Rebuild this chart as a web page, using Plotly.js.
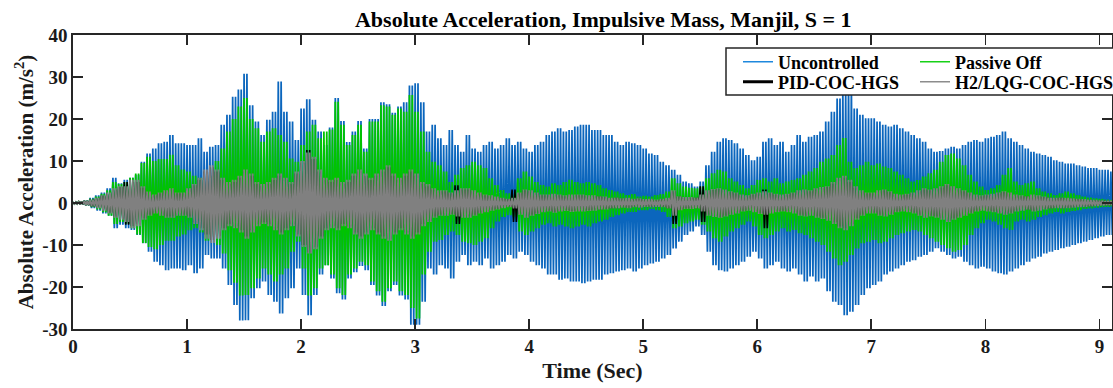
<!DOCTYPE html>
<html>
<head>
<meta charset="utf-8">
<script src="https://cdn.plot.ly/plotly-3.0.1.min.js"></script>
<style>html,body{margin:0;padding:0;background:#fff;}#chart{width:1113px;height:388px;}</style>
</head>
<body>
<div id="chart"></div>
<script>
// Sampling step of the envelope readings (s)
const DT = 0.05;

const seriesNames = ["Uncontrolled", "Passive Off", "PID-COC-HGS", "H2/LQG-COC-HGS"];

// Upper / lower peak envelopes, every 0.05 s from 0 to 9.1 s
const uncontrolledUp = [
  0.2,0.4,0.6,1.2,1.8,2.5,3.5,6.0,4.7,5.5,
  6.0,6.7,9.8,11.8,13.0,14.2,14.6,16.2,14.2,14.2,
  13.8,13.8,15.4,12.2,13.4,13.8,18.6,21.0,25.3,27.0,
  30.8,23.3,19.4,16.2,19.8,21.7,28.9,21.7,19.4,15.0,
  22.5,24.7,19.8,17.0,13.8,18.0,25.0,19.5,14.5,17.0,
  19.5,13.0,20.0,20.0,24.0,23.5,21.5,23.0,24.0,28.0,
  28.5,24.0,17.0,18.6,15.4,13.8,17.4,13.8,12.2,16.2,
  13.0,12.2,13.8,14.6,13.0,13.8,15.4,13.8,14.6,13.0,
  12.2,13.8,14.6,16.2,17.0,17.8,17.0,17.4,18.2,18.6,
  18.6,17.4,17.4,16.2,16.2,14.6,13.8,14.6,14.2,13.8,
  13.0,11.8,11.4,9.8,9.0,7.9,6.7,5.1,4.7,3.9,
  5.1,9.0,12.2,14.6,15.4,15.0,14.2,13.0,11.4,10.2,
  11.0,14.6,15.4,13.8,14.6,12.2,13.8,16.2,14.6,15.8,
  16.2,17.0,19.4,21.7,24.9,26.5,28.0,22.5,21.0,20.2,
  20.2,19.4,18.6,18.2,18.6,17.8,17.0,16.2,15.4,14.6,
  13.0,12.2,12.4,13.0,13.4,13.0,13.8,14.6,15.0,14.6,
  15.4,15.8,16.2,17.0,15.4,14.6,13.8,13.0,12.2,11.8,
  11.4,11.0,10.2,9.8,9.4,9.4,9.0,8.7,8.3,8.3,
  7.9,7.9,7.5
];
const uncontrolledLow = [
  -0.2,-0.4,-0.6,-1.2,-1.8,-2.5,-3.0,-6.0,-5.2,-6.0,
  -6.4,-7.6,-9.6,-11.6,-14.0,-14.8,-16.0,-15.6,-15.6,-16.0,
  -14.8,-16.7,-15.6,-12.4,-13.2,-13.2,-15.6,-19.5,-24.3,-28.0,
  -27.9,-22.7,-20.3,-18.7,-21.9,-23.5,-26.3,-22.7,-20.3,-15.6,
  -21.9,-26.7,-21.9,-17.0,-14.8,-18.0,-21.5,-23.0,-18.0,-16.5,
  -15.0,-16.0,-19.5,-22.0,-24.5,-21.0,-19.5,-22.0,-23.0,-29.0,
  -29.0,-23.5,-15.6,-17.0,-14.8,-15.6,-18.0,-14.0,-12.4,-14.8,
  -14.0,-14.8,-13.2,-15.6,-14.8,-14.0,-12.4,-13.2,-11.6,-12.4,
  -14.0,-14.8,-15.6,-17.0,-17.0,-18.3,-18.0,-18.7,-18.7,-19.1,
  -18.7,-18.3,-18.3,-17.0,-16.7,-16.3,-16.0,-15.6,-16.3,-15.6,
  -14.8,-14.4,-14.0,-13.2,-12.4,-10.8,-9.2,-7.6,-6.8,-5.6,
  -7.6,-11.6,-14.8,-16.0,-16.3,-15.6,-14.8,-14.0,-12.8,-11.6,
  -13.2,-15.6,-14.8,-14.0,-15.6,-16.3,-15.6,-17.0,-18.7,-17.5,
  -18.7,-18.0,-21.0,-23.5,-24.3,-26.7,-25.9,-24.3,-21.9,-20.3,
  -19.5,-18.7,-17.0,-16.3,-15.6,-14.8,-14.0,-13.6,-12.8,-12.4,
  -11.6,-10.8,-11.6,-12.4,-13.2,-12.8,-14.0,-14.8,-15.6,-15.2,
  -15.6,-16.3,-16.7,-17.0,-16.3,-15.6,-14.8,-14.0,-13.2,-12.8,
  -12.0,-11.6,-11.2,-10.8,-10.4,-10.0,-9.6,-9.2,-8.8,-8.4,
  -8.0,-7.6,-7.6
];
const passiveUp = [
  0.2,0.3,0.5,1.0,1.5,2.2,3.0,5.0,4.5,5.0,
  6.0,7.0,9.5,11.0,10.0,10.5,10.5,11.5,9.0,8.0,
  7.5,6.5,6.0,5.5,6.5,10.0,13.0,17.0,20.0,23.0,
  25.0,20.0,17.8,14.6,17.0,17.8,16.2,14.6,10.6,9.8,
  13.8,17.0,18.6,15.4,17.0,17.5,24.1,18.6,13.8,16.2,
  18.6,12.2,19.4,19.4,23.3,23.0,21.0,22.5,21.7,25.7,
  21.7,17.0,12.2,9.8,9.0,7.5,5.0,6.7,8.3,9.0,
  9.8,9.0,8.3,5.9,4.3,3.1,2.3,2.7,5.9,7.5,
  6.3,5.0,4.3,3.9,4.7,4.3,5.0,5.5,5.0,4.7,
  5.0,4.7,4.3,3.5,3.1,2.7,2.3,1.9,2.1,1.5,
  1.7,1.5,1.9,2.1,2.7,5.9,4.7,3.9,3.6,3.5,
  3.9,5.9,7.1,7.9,7.5,5.9,5.1,4.3,3.5,4.3,
  5.5,5.9,5.1,5.9,4.7,5.1,5.5,5.9,6.7,7.5,
  8.3,9.8,10.6,11.4,13.8,15.5,9.8,8.3,9.0,9.8,
  9.0,9.4,8.7,8.3,7.5,6.7,5.9,5.1,5.5,6.3,
  7.1,7.9,9.8,11.4,11.8,10.6,9.0,6.7,5.1,3.9,
  3.1,3.5,4.3,6.7,8.3,5.1,4.3,4.7,5.1,3.5,
  2.7,2.3,1.9,2.3,2.7,2.3,1.9,1.5,1.3,1.1,
  1.0,0.8,0.7
];
const passiveLow = [
  -0.2,-0.3,-0.5,-1.0,-1.5,-2.2,-3.0,-5.0,-4.5,-5.0,
  -6.0,-7.5,-9.5,-10.5,-11.0,-10.0,-9.0,-9.0,-8.0,-7.5,
  -6.5,-6.0,-7.0,-9.0,-8.0,-10.0,-12.0,-16.0,-19.0,-22.0,
  -21.9,-20.3,-18.0,-15.6,-17.0,-18.7,-17.0,-15.6,-11.6,-9.2,
  -15.6,-22.0,-20.3,-15.6,-14.8,-17.0,-20.3,-21.9,-17.0,-15.6,
  -14.0,-14.8,-18.7,-21.0,-23.5,-20.3,-18.7,-21.0,-21.9,-25.0,
  -27.5,-17.0,-11.6,-9.2,-8.8,-7.6,-6.8,-7.6,-9.2,-9.6,
  -10.0,-9.2,-8.4,-6.0,-4.4,-3.3,-2.9,-3.3,-6.8,-7.6,
  -6.8,-6.0,-5.2,-4.8,-5.6,-5.2,-5.6,-6.0,-5.6,-5.2,
  -5.6,-4.8,-4.4,-4.0,-3.3,-2.9,-2.5,-2.1,-2.1,-1.7,
  -1.7,-1.4,-1.7,-2.1,-3.3,-6.0,-5.6,-4.8,-4.4,-4.0,
  -5.2,-6.8,-8.4,-9.2,-8.0,-6.8,-6.0,-5.2,-4.4,-5.6,
  -7.6,-8.4,-7.6,-6.8,-6.0,-6.8,-6.4,-7.2,-7.6,-8.4,
  -9.2,-10.0,-11.6,-13.2,-14.8,-14.0,-12.4,-10.8,-9.6,-9.2,
  -8.8,-9.6,-9.2,-8.4,-7.6,-7.2,-6.8,-6.4,-6.8,-7.6,
  -8.4,-9.2,-10.0,-10.8,-11.6,-11.2,-10.0,-7.6,-6.0,-4.8,
  -4.0,-4.4,-5.2,-6.0,-6.4,-4.4,-4.0,-4.4,-4.0,-3.3,
  -2.9,-2.5,-2.1,-2.5,-2.1,-1.9,-1.7,-1.4,-1.3,-1.1,
  -1.0,-0.9,-0.8
];
const pidUp = [
  0.2,0.3,0.5,0.8,1.1,1.7,2.3,3.2,3.8,5.0,
  5.0,5.0,3.6,2.5,1.8,2.3,2.8,3.2,2.3,2.3,
  3.2,4.2,5.5,7.5,8.5,7.5,5.5,4.5,5.0,6.0,
  7.5,6.5,4.5,4.0,4.5,5.5,6.5,5.5,4.5,7.0,
  9.5,12.6,10.5,7.5,5.5,5.0,5.5,4.5,5.0,6.5,
  7.5,6.5,5.5,6.5,7.5,8.5,6.5,5.5,6.5,7.5,
  6.5,4.5,4.0,3.2,2.8,2.8,2.3,4.2,3.2,3.2,
  2.8,2.3,1.8,1.6,1.4,1.1,0.9,3.2,2.3,3.0,
  2.8,2.3,1.8,1.8,2.0,1.8,1.6,1.8,1.8,1.8,
  1.6,1.6,1.5,1.4,1.1,1.2,1.0,1.1,0.9,1.0,
  0.8,0.9,0.7,0.9,1.1,2.8,1.5,1.3,1.3,1.2,
  4.0,2.8,3.1,3.3,3.0,2.6,2.3,1.8,1.6,2.0,
  2.3,3.2,2.3,2.0,1.8,2.0,2.3,2.8,3.0,2.8,
  3.2,3.5,3.8,4.6,5.6,6.0,5.0,3.6,2.8,2.3,
  2.3,2.8,3.0,2.6,2.0,1.8,2.0,2.3,2.8,3.2,
  3.0,3.2,3.7,4.2,3.7,3.2,2.8,2.3,1.8,1.6,
  1.8,2.0,2.3,2.6,2.3,1.8,1.6,1.5,1.8,1.6,
  1.4,1.2,1.1,1.2,1.1,1.0,0.9,0.8,0.7,0.6,
  0.5,0.5,0.4
];
const pidLow = [
  -0.2,-0.3,-0.5,-0.8,-1.1,-1.7,-2.3,-3.2,-3.8,-5.2,
  -5.5,-5.0,-3.6,-2.8,-2.3,-2.8,-3.2,-3.2,-2.8,-2.8,
  -3.2,-4.6,-6.0,-7.5,-8.8,-7.8,-6.0,-5.0,-5.5,-6.5,
  -8.0,-6.5,-5.0,-4.6,-5.0,-6.0,-7.0,-6.0,-5.0,-7.5,
  -10.0,-11.8,-10.5,-8.0,-6.0,-5.5,-6.0,-5.0,-5.5,-7.0,
  -8.0,-7.0,-6.0,-7.0,-8.0,-8.5,-7.0,-6.0,-7.0,-8.0,
  -7.0,-5.0,-4.2,-3.2,-2.8,-2.8,-2.6,-5.0,-3.2,-3.2,
  -2.8,-2.3,-2.0,-1.6,-1.4,-1.1,-0.9,-4.5,-2.6,-3.2,
  -2.8,-2.4,-2.0,-1.8,-2.1,-1.8,-1.7,-1.9,-1.8,-1.8,
  -1.7,-1.6,-1.5,-1.4,-1.2,-1.2,-1.0,-1.1,-0.9,-1.0,
  -0.8,-0.9,-0.8,-0.9,-1.2,-5.0,-1.6,-1.3,-1.3,-1.2,
  -4.5,-2.8,-3.1,-3.3,-3.0,-2.6,-2.3,-1.8,-1.6,-2.0,
  -2.4,-6.0,-2.3,-2.0,-1.8,-2.0,-2.3,-2.8,-3.0,-2.8,
  -3.2,-3.5,-3.9,-4.6,-5.6,-6.0,-5.0,-3.6,-2.8,-2.3,
  -2.3,-2.8,-3.0,-2.6,-2.0,-1.8,-2.0,-2.3,-2.8,-3.2,
  -3.0,-3.2,-3.7,-4.2,-3.7,-3.2,-2.8,-2.3,-1.8,-1.6,
  -1.8,-2.0,-2.3,-2.6,-2.3,-1.8,-1.6,-1.5,-1.8,-1.6,
  -1.4,-1.2,-1.1,-1.2,-1.1,-1.0,-0.9,-0.8,-0.7,-0.6,
  -0.5,-0.5,-0.4
];
const lqgUp = [
  0.2,0.3,0.5,0.8,1.2,1.8,2.5,3.5,4.0,4.0,
  5.5,5.5,4.0,2.7,2.0,2.5,3.0,3.5,2.5,2.5,
  3.5,4.5,6.0,8.0,9.0,8.0,6.0,5.0,5.5,6.5,
  8.0,7.0,5.0,4.5,5.0,6.0,7.0,6.0,5.0,7.5,
  10.0,12.0,11.0,8.0,6.0,5.5,6.0,5.0,5.5,7.0,
  8.0,7.0,6.0,7.0,8.0,9.0,7.0,6.0,7.0,8.0,
  7.0,5.0,4.5,3.5,3.0,3.0,2.5,3.0,3.5,3.5,
  3.0,2.5,2.0,1.8,1.5,1.2,1.0,1.2,2.5,3.2,
  3.0,2.5,2.0,2.0,2.2,2.0,1.8,2.0,2.0,2.0,
  1.8,1.8,1.6,1.5,1.2,1.3,1.1,1.2,1.0,1.1,
  0.9,1.0,0.8,1.0,1.2,3.0,1.6,1.4,1.4,1.3,
  2.0,3.0,3.3,3.5,3.2,2.8,2.5,2.0,1.8,2.2,
  2.5,2.8,2.5,2.2,2.0,2.2,2.5,3.0,3.2,3.0,
  3.5,3.8,4.0,5.0,6.0,6.5,5.5,4.0,3.0,2.5,
  2.5,3.0,3.2,2.8,2.2,2.0,2.2,2.5,3.0,3.5,
  3.2,3.5,4.0,4.5,4.0,3.5,3.0,2.5,2.0,1.8,
  2.0,2.2,2.5,2.8,2.5,2.0,1.8,1.6,2.0,1.8,
  1.5,1.3,1.2,1.3,1.2,1.1,1.0,0.9,0.8,0.7,
  0.6,0.5,0.5
];
const lqgLow = [
  -0.2,-0.3,-0.5,-0.8,-1.2,-1.8,-2.5,-3.5,-4.0,-4.5,
  -6.0,-5.5,-4.0,-3.0,-2.5,-3.0,-3.5,-3.5,-3.0,-3.0,
  -3.5,-5.0,-6.5,-8.5,-9.5,-8.5,-6.5,-5.5,-6.0,-7.0,
  -8.5,-7.0,-5.5,-5.0,-5.5,-6.5,-7.5,-6.5,-5.5,-8.0,
  -10.5,-12.0,-11.0,-8.5,-6.5,-6.0,-6.5,-5.5,-6.0,-7.5,
  -8.5,-7.5,-6.5,-7.5,-8.5,-9.0,-7.5,-6.5,-7.5,-8.5,
  -7.5,-5.5,-4.5,-3.5,-3.0,-3.0,-2.8,-3.2,-3.5,-3.5,
  -3.0,-2.5,-2.2,-1.8,-1.5,-1.2,-1.0,-1.3,-2.8,-3.5,
  -3.0,-2.6,-2.2,-2.0,-2.3,-2.0,-1.9,-2.1,-2.0,-2.0,
  -1.9,-1.8,-1.6,-1.5,-1.3,-1.3,-1.1,-1.2,-1.0,-1.1,
  -0.9,-1.0,-0.9,-1.0,-1.3,-3.0,-1.7,-1.4,-1.4,-1.3,
  -2.0,-3.0,-3.3,-3.5,-3.2,-2.8,-2.5,-2.0,-1.8,-2.2,
  -2.6,-2.8,-2.5,-2.2,-2.0,-2.2,-2.5,-3.0,-3.2,-3.0,
  -3.5,-3.8,-4.2,-5.0,-6.0,-6.5,-5.5,-4.0,-3.0,-2.5,
  -2.5,-3.0,-3.2,-2.8,-2.2,-2.0,-2.2,-2.5,-3.0,-3.5,
  -3.2,-3.5,-4.0,-4.5,-4.0,-3.5,-3.0,-2.5,-2.0,-1.8,
  -2.0,-2.2,-2.5,-2.8,-2.5,-2.0,-1.8,-1.6,-2.0,-1.8,
  -1.5,-1.3,-1.2,-1.3,-1.2,-1.1,-1.0,-0.9,-0.8,-0.7,
  -0.6,-0.5,-0.5
];

const xTickVals = [0,1,2,3,4,5,6,7,8,9];
const yTickVals = [-30,-20,-10,0,10,20,30,40];

const lineColors = ["#0b66bd", "#00c400", "#000000", "#808080"];
const legendColors = ["#1e88dd", "#17d117", "#000000", "#8c8c8c"];
const legendWidths = [1.6, 1.6, 3, 1.6];
const lineWidths = [1.75, 1.75, 1.6, 1.75];

const time = uncontrolledUp.map((_, i) => Math.round(i * DT * 1000) / 1000);

// Each reading window is drawn as two swings between its upper and lower peaks
function oscillation(up, low) {
  const xs = [], ys = [];
  for (let i = 0; i < up.length; i++) {
    xs.push(time[i]);              ys.push(up[i]);
    xs.push(time[i] + DT * 0.25);  ys.push(low[i]);
    xs.push(time[i] + DT * 0.5);   ys.push(up[i]);
    xs.push(time[i] + DT * 0.75);  ys.push(low[i]);
  }
  return {x: xs, y: ys};
}

const series = [
  [uncontrolledUp, uncontrolledLow],
  [passiveUp, passiveLow],
  [pidUp, pidLow],
  [lqgUp, lqgLow]
];

const SERIF = "'Liberation Serif', 'Times New Roman', serif";
const traces = [];
series.forEach((s, k) => {
  const z = oscillation(s[0], s[1]);
  traces.push({
    type: "scatter", mode: "lines", x: z.x, y: z.y,
    line: {color: lineColors[k], width: lineWidths[k], simplify: false},
    showlegend: false, hoverinfo: "skip"
  });
});

// legend entries, one small legend each so they sit in a 2 x 2 grid
const legendIds = ["legend", "legend2", "legend3", "legend4"];
seriesNames.forEach((name, k) => {
  traces.push({
    type: "scatter", mode: "lines", x: [null], y: [null], name: name,
    line: {color: legendColors[k], width: legendWidths[k]},
    showlegend: true, legend: legendIds[k]
  });
});

const PX = (px) => (px - 73) / 1039;     // pixel -> paper x
const PY = (py) => (329 - py) / 294;     // pixel -> paper y

function legendAt(xpx, ypx) {
  return {
    x: PX(xpx), xanchor: "left", y: PY(ypx), yanchor: "middle",
    bgcolor: "rgba(0,0,0,0)", borderwidth: 0,
    font: {family: SERIF, size: 18, color: "#000000", weight: "bold"}
  };
}

const axisCommon = {
  showline: true, linecolor: "#262626", linewidth: 1.6, mirror: "ticks",
  ticks: "inside", ticklen: 10, tickwidth: 1.8, tickcolor: "#262626",
  showgrid: false, zeroline: false,
  tickfont: {family: SERIF, size: 19, color: "#1a1a1a", weight: "bold"}
};

const layout = {
  width: 1113, height: 388,
  margin: {l: 73, r: 1, t: 35, b: 59, autoexpand: false},
  paper_bgcolor: "#ffffff", plot_bgcolor: "#ffffff",
  title: {
    text: "Absolute Acceleration, Impulsive Mass, Manjil, S = 1",
    font: {family: SERIF, size: 22, color: "#000000", weight: "bold"},
    xref: "container", x: 0.542, xanchor: "center",
    yref: "container", y: 0.95, yanchor: "middle"
  },
  xaxis: Object.assign({}, axisCommon, {
    range: [0, 9.11], tickvals: xTickVals, ticktext: xTickVals.map(String),
    title: {text: "Time (Sec)", font: {family: SERIF, size: 22, color: "#1a1a1a", weight: "bold"}, standoff: 6}
  }),
  yaxis: Object.assign({}, axisCommon, {
    range: [-30, 40], tickvals: yTickVals, ticktext: yTickVals.map(String),
    title: {text: "Absolute Acceleration (m/s<sup>2</sup>)", font: {family: SERIF, size: 21, color: "#1a1a1a", weight: "bold"}, standoff: 3}
  }),
  legend: legendAt(738, 62),
  legend2: legendAt(915, 62),
  legend3: legendAt(738, 82),
  legend4: legendAt(915, 82),
  shapes: [{
    type: "rect", xref: "paper", yref: "paper",
    x0: PX(726), x1: PX(1116), y0: PY(95), y1: PY(48),
    fillcolor: "#ffffff", line: {color: "#262626", width: 1.5}, layer: "above"
  }],
  showlegend: true
};

Plotly.newPlot("chart", traces, layout, {displayModeBar: false, staticPlot: true});
</script>
</body>
</html>
